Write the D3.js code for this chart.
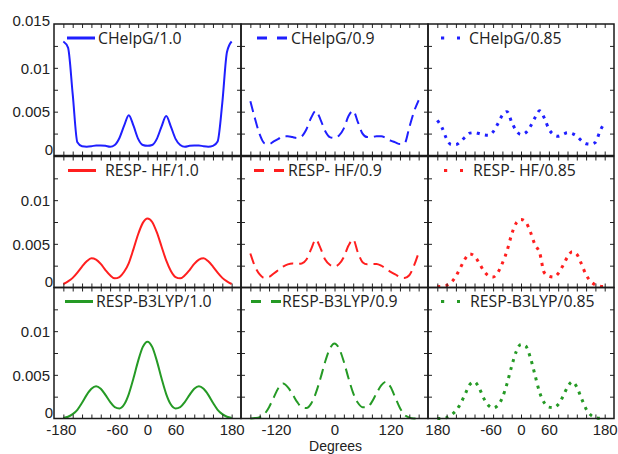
<!DOCTYPE html>
<html>
<head>
<meta charset="utf-8">
<script src="https://cdn.jsdelivr.net/npm/d3@7"></script>
<style>
  body { margin: 0; background: #fff; }
  svg { display: block; }
  text { font-family: "Open Sans", "DejaVu Sans", sans-serif; fill: #222; }
  .axis-label text, text.axis-title { font-family: "Liberation Sans", Arial, sans-serif; }
</style>
</head>
<body>
<svg id="chart" width="618" height="454"></svg>
<script>
// Dihedral angle grid (degrees)
const angles = [-180, -170, -160, -150, -140, -130, -120, -110, -100, -90, -80, -70, -60, -50, -40, -30, -20, -10,
  0, 10, 20, 30, 40, 50, 60, 70, 80, 90, 100, 110, 120, 130, 140, 150, 160, 170, 180];

// CHelpG charges
const chelpg_10 = [0.0130, 0.0123, 0.0070, 0.0015, 0.00105, 0.0010, 0.00105, 0.00115, 0.00115, 0.0011, 0.0010, 0.0012, 0.0020, 0.0034, 0.0046, 0.0034, 0.0019, 0.0012,
  0.0011, 0.0012, 0.0019, 0.0033, 0.0045, 0.0033, 0.0019, 0.0012, 0.0010, 0.0011, 0.00115, 0.00115, 0.00105, 0.0010, 0.0011, 0.0016, 0.0060, 0.0118, 0.0130];
const chelpg_09 = [0.0062, 0.0042, 0.0024, 0.0014, 0.0013, 0.0016, 0.0019, 0.0022, 0.0022, 0.0021, 0.0020, 0.0022, 0.0030, 0.0043, 0.0051, 0.0041, 0.0028, 0.0021,
  0.0020, 0.0023, 0.0031, 0.0045, 0.0051, 0.0038, 0.0025, 0.0021, 0.0021, 0.0022, 0.0022, 0.0020, 0.0017, 0.0015, 0.0013, 0.0014, 0.0032, 0.0050, 0.0063];
const chelpg_085 = [0.0040, 0.0032, 0.0019, 0.00125, 0.00125, 0.0016, 0.0021, 0.00255, 0.0026, 0.0025, 0.00235, 0.0023, 0.0027, 0.0036, 0.0046, 0.0050, 0.0038, 0.0028,
  0.0024, 0.0026, 0.0033, 0.0043, 0.0051, 0.0043, 0.0030, 0.0024, 0.0022, 0.0024, 0.0026, 0.0025, 0.0022, 0.0017, 0.00135, 0.0013, 0.0015, 0.0028, 0.0038];

// RESP (HF) charges
const hf_10 = [0.0004, 0.0007, 0.0011, 0.0017, 0.0024, 0.0030, 0.00335, 0.0032, 0.0027, 0.0020, 0.0014, 0.00105, 0.0012, 0.0018, 0.0028, 0.0044, 0.0061, 0.0074,
  0.0079, 0.0075, 0.0063, 0.0047, 0.0031, 0.0019, 0.0012, 0.00105, 0.0014, 0.0020, 0.0027, 0.0032, 0.00335, 0.0030, 0.0024, 0.0017, 0.0011, 0.0007, 0.0004];
const hf_09 = [0.0039, 0.0024, 0.0015, 0.0011, 0.0012, 0.0016, 0.0020, 0.0024, 0.00265, 0.00275, 0.0027, 0.00275, 0.0032, 0.0044, 0.0055, 0.0045, 0.0032, 0.0026,
  0.0024, 0.0027, 0.0035, 0.0048, 0.0055, 0.0040, 0.0029, 0.00265, 0.0027, 0.0027, 0.0025, 0.00215, 0.0018, 0.0015, 0.0012, 0.0011, 0.0014, 0.0025, 0.0040];
const hf_085 = [0.0001, 0.00015, 0.00025, 0.0006, 0.0013, 0.0023, 0.0033, 0.00385, 0.0036, 0.0028, 0.0019, 0.00135, 0.0012, 0.0017, 0.0028, 0.0042, 0.0061, 0.0074,
  0.0078, 0.0075, 0.0064, 0.0049, 0.0040, 0.0017, 0.0013, 0.0012, 0.0016, 0.0025, 0.0035, 0.0041, 0.0038, 0.0027, 0.00145, 0.0007, 0.0003, 0.00015, 0.0001];

// RESP (B3LYP) charges
const b3lyp_10 = [0.00005, 0.0002, 0.0005, 0.0010, 0.0018, 0.0027, 0.0034, 0.0037, 0.0034, 0.0027, 0.0019, 0.0013, 0.00115, 0.0016, 0.0028, 0.0046, 0.0066, 0.0082,
  0.0088, 0.0082, 0.0066, 0.0046, 0.0028, 0.0016, 0.00115, 0.0013, 0.0019, 0.0027, 0.0034, 0.0037, 0.0034, 0.0027, 0.0018, 0.0010, 0.0005, 0.0002, 0.00005];
const b3lyp_09 = [0.0, 0.00005, 0.00015, 0.0005, 0.0013, 0.0024, 0.0035, 0.0040, 0.0036, 0.0028, 0.0019, 0.0013, 0.0012, 0.0017, 0.0029, 0.0046, 0.0065, 0.0080,
  0.0086, 0.0080, 0.0065, 0.0046, 0.0029, 0.0018, 0.0013, 0.0013, 0.0019, 0.0029, 0.0038, 0.0042, 0.0036, 0.0024, 0.0012, 0.0004, 0.0001, 0.0, 0.0];
const b3lyp_085 = [0.0, 0.00002, 0.0001, 0.0004, 0.0009, 0.0017, 0.0028, 0.0039, 0.0042, 0.0035, 0.0023, 0.0015, 0.0012, 0.0015, 0.0024, 0.0040, 0.0060, 0.0077,
  0.0085, 0.0083, 0.0070, 0.0050, 0.0030, 0.0018, 0.0013, 0.00125, 0.0016, 0.0025, 0.0036, 0.0042, 0.0036, 0.0023, 0.0011, 0.0004, 0.0001, 0.00002, 0.0];

// Legend names, one per panel (row = method, column = scaling)
const legendNames = [
  ["CHelpG/1.0", "CHelpG/0.9", "CHelpG/0.85"],
  ["RESP- HF/1.0", "RESP- HF/0.9", "RESP- HF/0.85"],
  ["RESP-B3LYP/1.0", "RESP-B3LYP/0.9", "RESP-B3LYP/0.85"]
];
const seriesGrid = [
  [chelpg_10, chelpg_09, chelpg_085],
  [hf_10, hf_09, hf_085],
  [b3lyp_10, b3lyp_09, b3lyp_085]
];

// Axis ticks and labels
const yTickValues = [0, 0.005, 0.01, 0.015];
const yTickLabels = ["0", "0.005", "0.01", "0.015"];
const xTickValuesByCol = [[-180, -60, 0, 60, 180], [-120, 0, 120], [-180, -60, 0, 60, 180]];
const xTickLabelsByCol = [["-180", "-60", "0", "60", "180"], ["-120", "0", "120"], ["180", "-60", "0", "60", "180"]];
const xMinorTicks = [-180, -160, -140, -120, -100, -80, -60, -40, -20, 0, 20, 40, 60, 80, 100, 120, 140, 160, 180];
const yMinorTicks = [0.0025, 0.005, 0.0075, 0.01, 0.0125];

// Layout
const colEdges = [54, 241, 428, 614];
const rowTop = [24, 156.5, 287.5];
const rowZero = [155.5, 287.5, 418.5];
const rowColors = ["#1f1fff", "#ff1f1f", "#259a25"];
const legendSampleDx = [[13, 16, 13], [14, 13, 16], [11, 10, 13]];
const legendTextDx = [[44, 50, 41], [51, 47, 45], [42, 41, 42]];

const svg = d3.select("#chart");

const panels = [];
for (let r = 0; r < 3; r++) {
  for (let c = 0; c < 3; c++) {
    const x = d3.scaleLinear().domain([-200, 200]).range([colEdges[c], colEdges[c + 1]]);
    const y = d3.scaleLinear().domain([0, 0.015]).range([rowZero[r], rowTop[r]]);
    panels.push({ r, c, x, y });
  }
}

// Curves: solid, dashed and dotted per scaling column
const styleFor = c => c === 0
  ? { dash: null, width: 2 }
  : c === 1 ? { dash: "11,6", width: 2 } : { dash: "3,5.3", width: 3 };

panels.forEach(p => {
  const line = d3.line()
    .x((d, i) => p.x(angles[i]))
    .y(d => p.y(d))
    .curve(d3.curveMonotoneX);
  const st = styleFor(p.c);
  svg.append("path")
    .attr("d", line(seriesGrid[p.r][p.c]))
    .attr("fill", "none")
    .attr("stroke", rowColors[p.r])
    .attr("stroke-width", st.width)
    .attr("stroke-dasharray", st.dash)
    .attr("stroke-linecap", "butt");
});

// Minor ticks on all four sides, pointing inward
panels.forEach(p => {
  const g = svg.append("g").attr("class", "ticks");
  const addAxis = (axis, tx, ty) => {
    const a = g.append("g").attr("transform", `translate(${tx},${ty})`).call(axis);
    a.select(".domain").remove();
    a.selectAll("line").attr("stroke", "#222").attr("stroke-width", 1);
    a.selectAll("text").remove();
  };
  const [x0, x1] = p.x.range();
  const [yb, yt] = p.y.range();
  addAxis(d3.axisBottom(p.x).tickValues(xMinorTicks).tickSize(-4), 0, yb);
  addAxis(d3.axisTop(p.x).tickValues(xMinorTicks).tickSize(-4), 0, yt);
  addAxis(d3.axisLeft(p.y).tickValues(yMinorTicks).tickSize(-4), x0, 0);
  addAxis(d3.axisRight(p.y).tickValues(yMinorTicks).tickSize(-4), x1, 0);
});

// Panel frames
panels.forEach(p => {
  const [x0, x1] = p.x.range();
  const [yb, yt] = p.y.range();
  svg.append("rect")
    .attr("x", x0).attr("y", yt)
    .attr("width", x1 - x0).attr("height", yb - yt)
    .attr("fill", "none")
    .attr("stroke", "#1a1a1a")
    .attr("stroke-width", 1.5);
});

// Y tick labels on the left column
panels.filter(p => p.c === 0).forEach(p => {
  const vals = p.r === 0 ? yTickValues : yTickValues.slice(0, 3);
  const a = svg.append("g")
    .attr("class", "axis-label")
    .attr("transform", `translate(${colEdges[0]},0)`)
    .call(d3.axisLeft(p.y).tickValues(vals).tickSize(0).tickPadding(4)
      .tickFormat(v => yTickLabels[yTickValues.indexOf(v)]));
  a.select(".domain").remove();
  a.selectAll("text")
    .style("font-size", "15px")
    .attr("fill", "#222")
    .attr("dy", v => v === 0 ? "-1px" : (v === 0.015 ? "1.4px" : "0.35em"))
    .attr("dx", v => v === 0 ? "3px" : null);
});

// X tick labels under the bottom row
panels.filter(p => p.r === 2).forEach(p => {
  const vals = xTickValuesByCol[p.c];
  const labels = xTickLabelsByCol[p.c];
  const a = svg.append("g")
    .attr("class", "axis-label")
    .attr("transform", `translate(0,${rowZero[2]})`)
    .call(d3.axisBottom(p.x).tickValues(vals).tickSize(0).tickPadding(0)
      .tickFormat((v, i) => labels[i]));
  a.select(".domain").remove();
  a.selectAll("text")
    .style("font-size", "15px")
    .attr("fill", "#222")
    .attr("dy", "16.5px")
    .attr("dx", (v, i) => labels[i].startsWith("-") ? "-2.5px" : null);
});

// Axis title
svg.append("text")
  .attr("class", "axis-title")
  .attr("x", (colEdges[1] + colEdges[2]) / 2 + 1)
  .attr("y", 450.8)
  .attr("text-anchor", "middle")
  .style("font-size", "14px")
  .text("Degrees");

// Legends
panels.forEach(p => {
  const x0 = colEdges[p.c];
  const ly = rowTop[p.r] + 14;
  const sx = x0 + legendSampleDx[p.r][p.c];
  const g = svg.append("g");
  if (p.c === 0) {
    g.append("line").attr("x1", sx).attr("x2", sx + 28).attr("y1", ly).attr("y2", ly)
      .attr("stroke", rowColors[p.r]).attr("stroke-width", 3);
  } else if (p.c === 1) {
    g.append("line").attr("x1", sx).attr("x2", sx + 30).attr("y1", ly).attr("y2", ly)
      .attr("stroke", rowColors[p.r]).attr("stroke-width", 3).attr("stroke-dasharray", "10,10");
  } else {
    g.append("line").attr("x1", sx).attr("x2", sx + 19).attr("y1", ly).attr("y2", ly)
      .attr("stroke", rowColors[p.r]).attr("stroke-width", 3.2).attr("stroke-dasharray", "3.2,12.8");
  }
  g.append("text")
    .attr("x", x0 + legendTextDx[p.r][p.c])
    .attr("y", ly)
    .attr("dy", "0.36em")
    .style("font-size", "15.8px")
    .text(legendNames[p.r][p.c]);
});
</script>
</body>
</html>
